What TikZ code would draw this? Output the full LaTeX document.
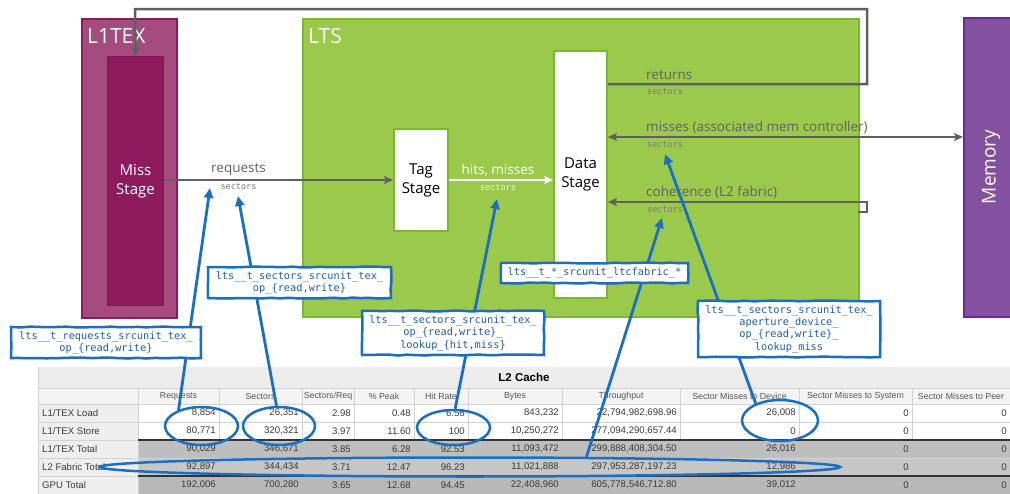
\documentclass[tikz,border=0pt]{standalone}
\usepackage{fontspec}
\setmainfont{Open Sans}
\newfontfamily\monof{DejaVu Sans Mono}
\newfontfamily\tabf{Liberation Sans}
\usetikzlibrary{arrows.meta,shapes.geometric,decorations.pathmorphing,shadows}
\definecolor{l1fill}{HTML}{A54C7F}
\definecolor{l1border}{HTML}{8E1A5E}
\definecolor{missfill}{HTML}{8D1B5E}
\definecolor{missborder}{HTML}{7F1553}
\definecolor{ltsfill}{HTML}{9BC94B}
\definecolor{ltsborder}{HTML}{7AB929}
\definecolor{memfill}{HTML}{8450A0}
\definecolor{memborder}{HTML}{6A2A90}
\definecolor{lgray}{HTML}{606060}
\definecolor{cblue}{HTML}{1A6FC0}
\definecolor{ctext}{HTML}{1F5FAA}
\definecolor{titlebg}{HTML}{ECECEC}
\definecolor{headbg}{HTML}{F4F4F4}
\definecolor{labelbg}{HTML}{EEEEEE}
\definecolor{gridc}{HTML}{D2D2D2}
\definecolor{totA}{HTML}{BEBEBE}
\definecolor{totB}{HTML}{C6C6C6}
\definecolor{totC}{HTML}{B8B8B8}
\definecolor{tabtext}{HTML}{3A3A3A}
\newcommand\stagefont{\fontsize{15}{19}\selectfont}
\def\colr{{219,302,354,414,468,562,680,799,912,1010}}
\newcommand\tabrowvals[3]{%
  \foreach \vv [count=\cc] in {#3}{%
    \pgfmathsetmacro\xr{\colr[\cc-1]-3}%
    \node[numtxt] (v#2-\cc) at (\xr,#1) {\vv};}}
\begin{document}
\begin{tikzpicture}[x=1pt,y=-1pt,
  box/.style={draw, line width=1.5pt, inner sep=0pt, anchor=north west},
  biglbl/.style={anchor=base west, text=white, font=\fontsize{21}{24}\selectfont, inner sep=0pt},
  lbl/.style={text=lgray, font=\fontsize{13.5}{16}\selectfont, inner sep=0pt},
  sect/.style={text=lgray!85!white, font=\monof\fontsize{8.5}{10}\selectfont, inner sep=0pt},
  grayline/.style={draw=lgray, line width=2.5pt},
  grayarrow/.style={grayline, -{Stealth[length=9pt,width=8pt,inset=2pt]}},
  whitearrow/.style={draw=white, line width=2.5pt, -{Stealth[length=9pt,width=8pt,inset=2pt]}},
  blueptr/.style={draw=cblue, line width=2.8pt, -{Triangle[length=10pt,width=9pt]}},
  callout/.style={draw=cblue, line width=2.5pt, fill=white, text=ctext,
    font=\monof\fontsize{10.3}{12.3}\selectfont, align=center, inner sep=0pt,
    decorate, decoration={random steps,segment length=9pt,amplitude=0.5pt},
    drop shadow={opacity=0.25, shadow xshift=1.5pt, shadow yshift=-1.5pt}},
  ring/.style={ellipse, draw=cblue, line width=2.5pt, inner sep=0pt},
  numtxt/.style={anchor=east, inner sep=0pt, text=tabtext, font=\tabf\fontsize{9.6}{11}\selectfont},
  rowlbl/.style={anchor=west, inner sep=0pt, text=tabtext, font=\tabf\fontsize{9.6}{11}\selectfont},
  headtxt/.style={inner sep=0pt, text=tabtext!85!white, font=\tabf\fontsize{8.8}{10}\selectfont}
]
\useasboundingbox (0,0) rectangle (1010,493);
\pgfmathsetseed{11}

% ---------- blocks ----------
\node[box, fill=l1fill, draw=l1border, minimum width=95pt, minimum height=299pt] (l1tex) at (81,18) {};
\node[biglbl] (l1texlbl) at (87,43) {L1TEX};
\node[box, fill=missfill, draw=missborder, line width=1pt, minimum width=56pt, minimum height=249pt,
      text=white, font=\stagefont, align=center] (miss) at (107,56) {Miss\\Stage};

\node[box, fill=ltsfill, draw=ltsborder, minimum width=556pt, minimum height=298pt] (lts) at (302,18) {};
\node[biglbl] (ltslbl) at (308,43) {LTS};
\node[box, fill=white, draw=ltsborder, line width=2pt, minimum width=54pt, minimum height=102pt,
      font=\stagefont, align=center] (tag) at (393,128) {Tag\\Stage};
\node[box, fill=white, draw=ltsborder, line width=2pt, minimum width=53pt, minimum height=247pt,
      font=\stagefont, align=center] (data) at (553,50) {Data\\Stage};

\node[box, fill=memfill, draw=memborder, minimum width=58pt, minimum height=299pt] (memory) at (963,17) {};
\node[rotate=90, text=white, font=\fontsize{19}{22}\selectfont, inner sep=0pt] (memlbl) at (991,167) {Memory};

% ---------- gray connectors ----------
\coordinate (retc) at (867,84);
\coordinate (topl) at (135,9);
\draw[grayarrow] (data.east |- retc) -- (retc) -- (retc |- topl) -- (topl) -- (miss.north);
\coordinate (misc) at (760,137);
\draw[grayline, {Stealth[length=9pt,width=8pt,inset=2pt]}-{Stealth[length=9pt,width=8pt,inset=2pt]}]
  (data.east |- misc) -- (memory.west |- misc);
\coordinate (cohs) at (858,212);
\coordinate (cohc) at (867,202);
\draw[grayarrow] (cohs) -- (cohs -| cohc) -- (cohc) -- (data.east |- cohc);
\draw[grayarrow] (miss.east |- tag.west) -- (tag.west);
\draw[whitearrow] (tag.east) -- (data.west |- tag.east);

% ---------- connector labels ----------
\node[lbl] (reqlbl) at (238.5,170) {requests};
\node[sect] (reqsec) at (238.5,187) {sectors};
\node[lbl, text=white] (hitlbl) at (498,170) {hits, misses};
\node[sect, text=white!85!ltsfill] (hitsec) at (498,188) {sectors};
\node[lbl, anchor=west] (retlbl) at (646,75) {returns};
\node[sect, anchor=west] (retsec) at (647,92) {sectors};
\node[lbl, anchor=west] (mislbl) at (646,127) {misses (associated mem controller)};
\node[sect, anchor=west] (missec) at (647,145) {sectors};
\node[lbl, anchor=west] (cohlbl) at (646,192) {coherence (L2 fabric)};
\node[sect, anchor=west] (cohsec) at (647,210) {sectors};

% ---------- table ----------
\fill[titlebg] (38,367) rectangle (1010,388);
\fill[headbg] (38,388) rectangle (1010,404);
\fill[labelbg] (38,404) rectangle (138,494);
\fill[white] (138,404) rectangle (1010,440);
\fill[totA] (138,440) rectangle (1010,458);
\fill[totB] (138,458) rectangle (1010,476);
\fill[totC] (138,476) rectangle (1010,494);
\foreach \yy in {388,404,422,440,458,476}{\draw[gridc, line width=0.8pt] (38,\yy) -- (1010,\yy);}
\foreach \xx in {219,302,354,414,468,562,680,799,912}{\draw[gridc, line width=0.8pt] (\xx,388) -- (\xx,440);}
\draw[gridc, line width=0.8pt] (138,388) -- (138,494);
\draw[gridc, line width=0.8pt] (38,367) -- (38,494);
\draw[black!80, line width=1.4pt] (138,440) -- (1010,440);
\draw[black!80, line width=1.4pt] (138,476) -- (1010,476);

\node[inner sep=0pt, font=\tabf\bfseries\fontsize{11.5}{13}\selectfont] (tabtitle) at (524,377) {L2 Cache};
\foreach \hx/\htxt [count=\hc] in {178.5/Requests, 260.5/Sectors, 328/Sectors\slash Req, 384/\% Peak, 441/Hit Rate,
   515/Bytes, 621/Throughput, 739.5/Sector Misses to Device, 855.5/Sector Misses to System, 961/Sector Misses to Peer}
  {\node[headtxt] (h-\hc) at (\hx,396) {\htxt};}

\node[rowlbl] (r1) at (42,413) {L1/TEX Load};
\node[rowlbl] (r2) at (42,431) {L1/TEX Store};
\node[rowlbl] (r3) at (42,449) {L1/TEX Total};
\node[rowlbl] (r4) at (42,467) {L2 Fabric Total};
\node[rowlbl] (r5) at (42,485) {GPU Total};

\tabrowvals{413}{1}{{8,854},{26,351},2.98,0.48,6.56,{843,232},{22,794,982,698.96},{26,008},0,0}
\tabrowvals{431}{2}{{80,771},{320,321},3.97,11.60,100,{10,250,272},{277,094,290,657.44},0,0,0}
\tabrowvals{449}{3}{{90,029},{346,671},3.85,6.28,92.53,{11,093,472},{299,888,408,304.50},{26,016},0,0}
\tabrowvals{467}{4}{{92,897},{344,434},3.71,12.47,96.23,{11,021,888},{297,953,287,197.23},{12,986},0,0}
\tabrowvals{485}{5}{{192,006},{700,280},3.65,12.68,94.45,{22,408,960},{605,778,546,712.80},{39,012},0,0}

% ---------- rings ----------
\node[ring, minimum width=73pt, minimum height=38pt] (e1) at (201.5,426) {};
\node[ring, minimum width=72pt, minimum height=38pt] (e2) at (279,426) {};
\node[ring, minimum width=73pt, minimum height=35pt] (e3) at (453.5,427.5) {};
\node[ring, minimum width=740pt, minimum height=19pt] (e4) at (470,467) {};
\node[ring, minimum width=76pt, minimum height=41pt] (e5) at (780,420.5) {};

% ---------- pointers ----------
\coordinate (t1) at (210,188);
\coordinate (t2) at (238,196);
\coordinate (t3) at (497,199);
\coordinate (t4) at (662,218);
\coordinate (t5) at (665,154);
\draw[blueptr] (e1.145) -- (t1);
\draw[blueptr] (e2.97) -- (t2);
\draw[blueptr] (e3.85) -- (t3);
\draw[blueptr] (e4.5.5) -- (t4);
\draw[blueptr] (e5.145) -- (t5);

% ---------- callouts ----------
\node[callout, minimum width=190pt, minimum height=31pt] (c1) at (106,342.5)
  {lts\_\_t\_requests\_srcunit\_tex\_\\op\_\{read,write\}};
\node[callout, minimum width=183pt, minimum height=31pt] (c2) at (299.5,282.5)
  {lts\_\_t\_sectors\_srcunit\_tex\_\\op\_\{read,write\}};
\node[callout, minimum width=182pt, minimum height=44pt] (c3) at (453,333)
  {lts\_\_t\_sectors\_srcunit\_tex\_\\op\_\{read,write\}\_\\lookup\_\{hit,miss\}};
\node[callout, minimum width=187pt, minimum height=20pt] (c4) at (594.5,273)
  {lts\_\_t\_*\_srcunit\_ltcfabric\_*};
\node[callout, minimum width=182pt, minimum height=56pt] (c5) at (789,329)
  {lts\_\_t\_sectors\_srcunit\_tex\_\\aperture\_device\_\\op\_\{read,write\}\_\\lookup\_miss};
\end{tikzpicture}
\end{document}
